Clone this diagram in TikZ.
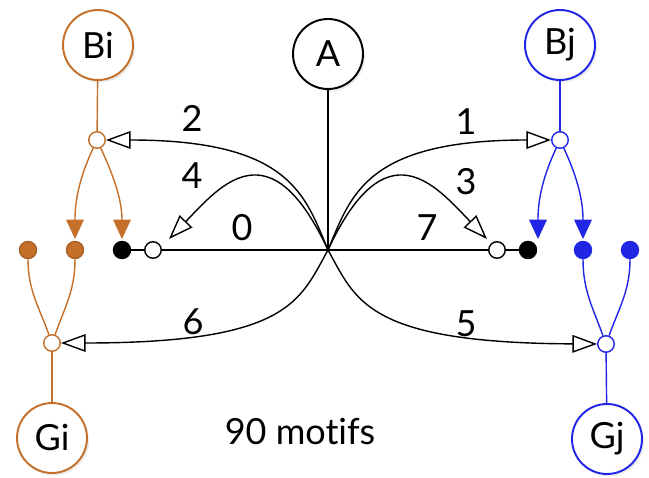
\documentclass[tikz,border=0pt]{standalone}
\usepackage{fontspec}
\setmainfont[Ligatures=NoCommon]{Lato}
\usetikzlibrary{arrows.meta,shadows}
\definecolor{rust}{RGB}{196,112,42}
\definecolor{royal}{RGB}{32,38,228}

\begin{document}
\begin{tikzpicture}[x=0.02cm, y=0.02cm, font=\fontsize{20.5}{22}\selectfont,
  big/.style={circle, draw, line width=1.1pt, fill=white, minimum size=1.4cm, inner sep=0pt,
    drop shadow={opacity=0.15, shadow xshift=0.04cm, shadow yshift=-0.05cm}},
  hub/.style={circle, draw, line width=0.8pt, fill=white, minimum size=0.33cm, inner sep=0pt},
  dot/.style={circle, draw, line width=0.8pt, minimum size=0.34cm, inner sep=0pt},
  lab/.style={inner sep=0pt},
  opn/.style={line width=0.8pt, -{Triangle[open, length=14pt, width=10pt]}},
  fil/.style={line width=0.8pt, -{Triangle[length=11pt, width=10pt]}, shorten >=1pt}]
\useasboundingbox (0,0) rectangle (649,477);

% big nodes
\node[big, draw=rust] (Bi) at (98,432) {Bi};
\node[big] (A) at (328,423) {A};
\node[big, draw=royal] (Bj) at (560,432) {Bj};
\node[big, draw=rust] (Gi) at (52,39) {Gi};
\node[big, draw=royal] (Gj) at (607,38) {Gj};

% junctions
\node[hub, draw=rust] (jbi) at (97,337) {};
\node[hub, draw=royal] (jbj) at (560,337) {};
\node[hub, draw=rust] (jgi) at (52,134) {};
\node[hub, draw=royal] (jgj) at (606,133) {};

% dots on the middle row
\node[dot, draw=rust!85!black, fill=rust] (od1) at (28,227) {};
\node[dot, draw=rust!85!black, fill=rust] (od2) at (75,227) {};
\node[dot, fill=black] (bk1) at (122,227) {};
\node[hub] (oc1) at (153,227) {};
\node[hub] (oc2) at (497,227) {};
\node[dot, fill=black] (bk2) at (528,227) {};
\node[dot, draw=royal, fill=royal] (bd1) at (583,227) {};
\node[dot, draw=royal, fill=royal] (bd2) at (630,227) {};

\coordinate (C) at (328,227);
\coordinate (t4) at (169,238);
\coordinate (t3) at (487,238);

% black connectors
\draw[line width=0.8pt] (A) -- (C);
\draw[line width=0.8pt] (C) -- (oc1);
\draw[line width=0.8pt] (C) -- (oc2);
\draw[line width=0.8pt] (bk1) -- (oc1);
\draw[line width=0.8pt] (oc2) -- (bk2);
\draw[opn] (C) .. controls (305,282) and (290,337) .. (jbi);
\draw[opn] (C) .. controls (351,282) and (366,337) .. (jbj);
\draw[opn] (C) .. controls (270,352) and (220,291) .. (t4);
\draw[opn] (C) .. controls (386,352) and (436,291) .. (t3);
\draw[opn] (C) .. controls (300,177) and (290,134) .. (jgi);
\draw[opn] (C) .. controls (356,177) and (366,134) .. (jgj);

% orange side
\draw[rust, line width=0.8pt] (Bi) -- (jbi);
\draw[rust, fil] (jbi) to[out=245, in=90] (od2);
\draw[rust, fil] (jbi) to[out=295, in=90] (bk1);
\draw[rust, line width=0.8pt] (Gi) -- (jgi);
\draw[rust, line width=0.8pt] (jgi) to[out=110, in=-90] (od1);
\draw[rust, line width=0.8pt] (jgi) to[out=70, in=-90] (od2);

% blue side
\draw[royal, line width=0.8pt] (Bj) -- (jbj);
\draw[royal, fil] (jbj) to[out=245, in=90] ([xshift=0.2cm]bk2.north);
\draw[royal, fil] (jbj) to[out=295, in=90] (bd1);
\draw[royal, line width=0.8pt] (Gj) -- (jgj);
\draw[royal, line width=0.8pt] (jgj) to[out=110, in=-90] (bd1);
\draw[royal, line width=0.8pt] (jgj) to[out=70, in=-90] (bd2);

% labels
\node[lab] (l2) at (192,359) {2};
\node[lab] (l4) at (192,301) {4};
\node[lab] (l0) at (242,249) {0};
\node[lab] (l1) at (466,355) {1};
\node[lab] (l3) at (466,295) {3};
\node[lab] (l7) at (427,249) {7};
\node[lab] (l6) at (193,155) {6};
\node[lab] (l5) at (466,153) {5};
\node[lab] (motifs) at (300,45) {90 motifs};
\end{tikzpicture}
\end{document}
